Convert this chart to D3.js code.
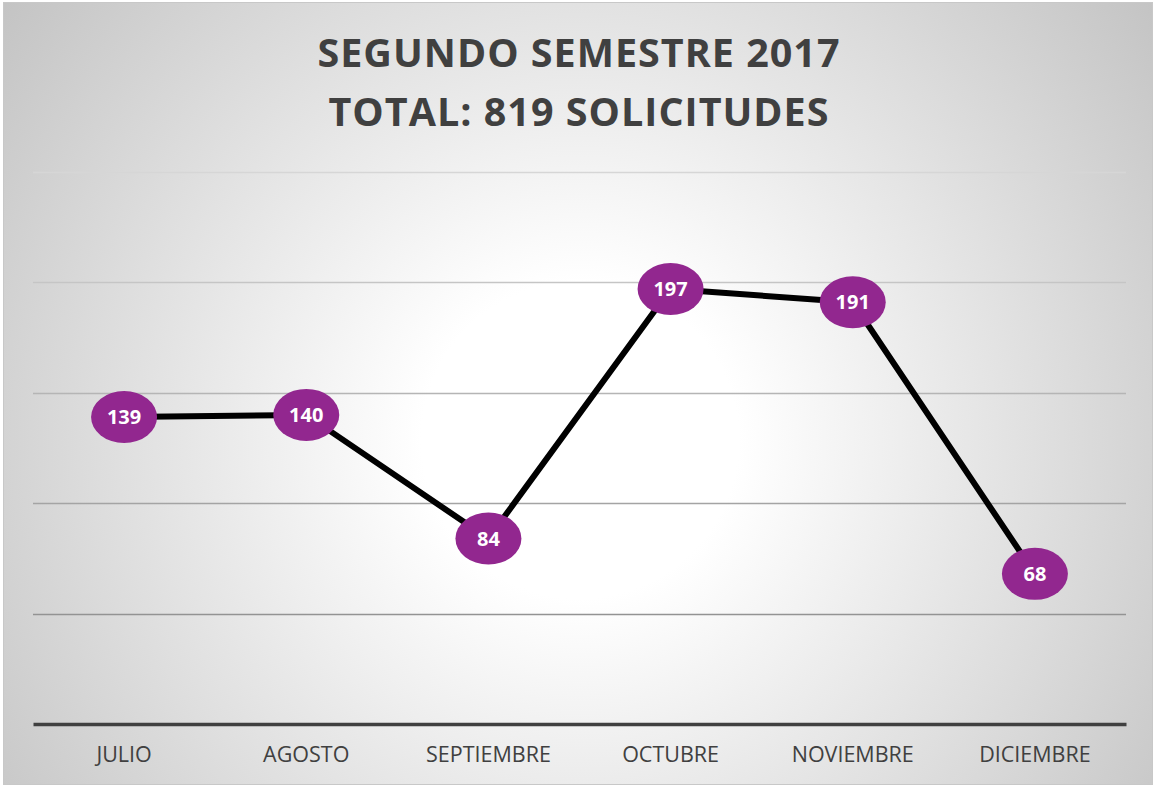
<!DOCTYPE html>
<html><head><meta charset="utf-8">
<script src="https://cdn.jsdelivr.net/npm/d3@7"></script>
<style>body{margin:0;background:#fff}svg{display:block}</style>
</head><body>
<script>
const months = ["JULIO","AGOSTO","SEPTIEMBRE","OCTUBRE","NOVIEMBRE","DICIEMBRE"];
const values = [139,140,84,197,191,68];
const yTicks = [0,50,100,150,200,250];
const titleLines = ["SEGUNDO SEMESTRE 2017","TOTAL: 819 SOLICITUDES"];

const W=1156,H=787;
const svg=d3.select("body").append("svg").attr("width",W).attr("height",H);
const defs=svg.append("defs");
const g=defs.append("radialGradient").attr("id","bg").attr("gradientUnits","userSpaceOnUse")
  .attr("cx",580).attr("cy",440).attr("r",720);
g.append("stop").attr("offset","0").attr("stop-color","#ffffff");
g.append("stop").attr("offset","0.22").attr("stop-color","#ffffff");
g.append("stop").attr("offset","1").attr("stop-color","#c4c4c4");
svg.append("rect").attr("x",0).attr("y",0).attr("width",W).attr("height",H).attr("fill","#fff");
svg.append("rect").attr("x",3.5).attr("y",2.5).attr("width",1149).attr("height",782)
  .attr("fill","url(#bg)").attr("stroke","#c8c8c8").attr("stroke-width",1);

const x=d3.scaleBand().domain(months).range([33,1126]);
const y=d3.scaleLinear().domain([0,250]).range([724,172]);

// gridlines (darker towards the bottom)
const gridColor=d3.scaleLinear().domain([50,250]).range(["#939393","#d6d6d6"]);
svg.append("g").selectAll("line").data(yTicks.filter(d=>d>0)).join("line")
  .attr("x1",33).attr("x2",1126).attr("y1",d=>Math.round(y(d))+0.5).attr("y2",d=>Math.round(y(d))+0.5)
  .attr("stroke",d=>gridColor(d)).attr("stroke-width",1.4);

// x axis
const xa=svg.append("g").attr("transform",`translate(0,${y(0)})`).call(d3.axisBottom(x).tickSize(0).tickPadding(23));
xa.select(".domain").attr("stroke","#404040").attr("stroke-width",3.5);
xa.selectAll("text").attr("font-family","'Open Sans',sans-serif").attr("font-size",21.5).attr("fill","#404040");

// title
svg.append("g").selectAll("text").data(titleLines).join("text")
  .attr("x",579).attr("y",(d,i)=>67+i*59).attr("text-anchor","middle")
  .attr("font-family","'Open Sans',sans-serif").attr("font-weight","bold").attr("font-size",39.5)
  .attr("letter-spacing",1).attr("fill","#404040").text(d=>d);

// line
const data=months.map((m,i)=>({m,v:values[i]}));
svg.append("path").datum(data)
  .attr("d",d3.line().x(d=>x(d.m)+x.bandwidth()/2).y(d=>y(d.v)))
  .attr("fill","none").attr("stroke","#000").attr("stroke-width",6).attr("stroke-linejoin","round");

// labels
const lg=svg.append("g").selectAll("g").data(data).join("g")
  .attr("transform",d=>`translate(${x(d.m)+x.bandwidth()/2},${y(d.v)})`);
lg.append("ellipse").attr("rx",33).attr("ry",26).attr("fill","#92278F");
lg.append("text").attr("text-anchor","middle").attr("dy","0.36em")
  .attr("font-family","'Open Sans',sans-serif").attr("font-weight","bold").attr("font-size",20)
  .attr("fill","#fff").text(d=>d.v);
</script>
</body></html>
